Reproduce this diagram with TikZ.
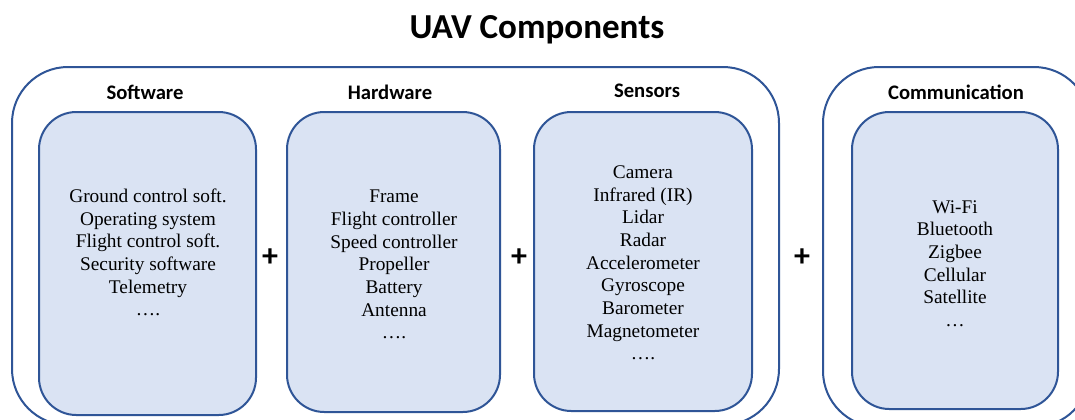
\documentclass[tikz,border=0pt]{standalone}
\usepackage{fontspec}
\setmainfont{Liberation Serif}
\newfontfamily\headfont{Carlito}
\definecolor{edgeblue}{RGB}{47,85,151}
\definecolor{panelfill}{RGB}{218,227,243}
\tikzset{
  group/.style={draw=edgeblue, line width=1.5pt, rounded corners=42pt, fill=white, inner sep=0pt},
  panel/.style={draw=edgeblue, line width=1.5pt, rounded corners=28pt, fill=panelfill, inner sep=0pt},
  itemlist/.style={align=center, inner sep=0pt, font=\fontsize{14.5}{17}\selectfont},
  heading/.style={font=\headfont\bfseries\fontsize{15.5}{18}\selectfont, inner sep=0pt},
  plussign/.style={font=\headfont\bfseries\fontsize{24}{24}\selectfont, inner sep=0pt},
  titletext/.style={font=\headfont\bfseries\fontsize{26.3}{30}\selectfont, inner sep=0pt}
}
\begin{document}
\begin{tikzpicture}[x=0.75pt, y=-0.75pt]
\useasboundingbox (0,0) rectangle (1075,419);
\clip (0,0) rectangle (1075,419);

% title
\node[titletext] (title) at (537,30) {UAV Components};

% outer groups
\node[group, minimum width=767*0.75pt, minimum height=358*0.75pt] (grpA) at (395.5,246) {};
\node[group, minimum width=267*0.75pt, minimum height=360*0.75pt] (grpB) at (956.5,247) {};

% group headings
\node[heading] (hsw) at (145,92) {Software};
\node[heading] (hhw) at (390,92) {Hardware};
\node[heading] (hse) at (647,91) {Sensors};
\node[heading] (hco) at (956,92) {Communication};

% panels
\node[panel, minimum width=217*0.75pt, minimum height=303*0.75pt] (sw) at (147.5,263.5) {};
\node[panel, minimum width=213*0.75pt, minimum height=300*0.75pt] (hw) at (393.5,262) {};
\node[panel, minimum width=218*0.75pt, minimum height=299*0.75pt] (se) at (643,261.5) {};
\node[panel, minimum width=206*0.75pt, minimum height=297*0.75pt] (co) at (955,260.5) {};

% panel contents
\node[itemlist] (swlist) at (148,252.5) {Ground control soft.\\Operating system\\Flight control soft.\\Security software\\Telemetry\\\ldots.};
\node[itemlist] (hwlist) at (394,264.5) {Frame\\Flight controller\\Speed controller\\Propeller\\Battery\\Antenna\\\ldots.};
\node[itemlist] (selist) at (643,263) {Camera\\Infrared (IR)\\Lidar\\Radar\\Accelerometer\\Gyroscope\\Barometer\\Magnetometer\\\ldots.};
\node[itemlist] (colist) at (955,263.5) {Wi-Fi\\Bluetooth\\Zigbee\\Cellular\\Satellite\\\ldots};

% plus signs between panels
\node[plussign] (p1) at (270,258) {+};
\node[plussign] (p2) at (519,258) {+};
\node[plussign] (p3) at (802,258) {+};
\end{tikzpicture}
\end{document}
